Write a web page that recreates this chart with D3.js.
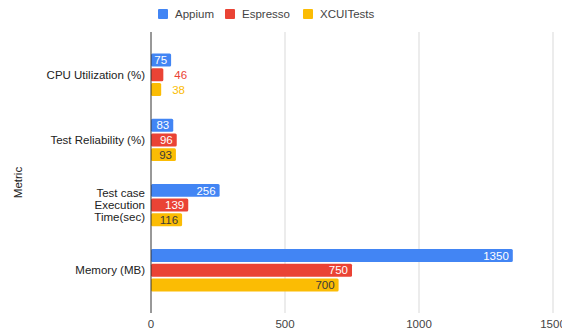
<!DOCTYPE html>
<html>
<head>
<meta charset="utf-8">
<script src="https://cdn.jsdelivr.net/npm/d3@7"></script>
<style>
  body { margin: 0; background: #fff; }
  svg { display: block; font-family: "Liberation Sans", Arial, sans-serif; }
</style>
</head>
<body>
<div id="chart"></div>
<script>
const categories = [
    ['CPU Utilization (%)'],
    ['Test Reliability (%)'],
    ['Test case', 'Execution', 'Time(sec)'],
    ['Memory (MB)']
];
const seriesNames = ['Appium', 'Espresso', 'XCUITests'];
const appium = [75, 83, 256, 1350];
const espresso = [46, 96, 139, 750];
const xcuiTests = [38, 93, 116, 700];
const xTicks = [0, 500, 1000, 1500];

const colors = ['#4285f4', '#ea4335', '#fbbc04'];
const insideText = ['#fff', '#fff', '#3a3a3a'];
const series = [appium, espresso, xcuiTests];

const width = 562, height = 334;
const plot = { left: 151, right: 553, top: 32, bottom: 313 };

const svg = d3.select('#chart').append('svg')
    .attr('width', width)
    .attr('height', height);

const x = d3.scaleLinear().domain([0, 1500]).range([plot.left, plot.right]);
const y = d3.scaleBand()
    .domain(d3.range(categories.length))
    .range([plot.top, plot.bottom])
    .paddingInner(0.35)
    .paddingOuter(0.33);
const yInner = d3.scaleBand()
    .domain(d3.range(series.length))
    .range([0, y.bandwidth()])
    .paddingInner(0.12);

// gridlines
svg.append('g')
    .selectAll('line')
    .data(xTicks.slice(1))
    .enter().append('line')
    .attr('x1', d => x(d)).attr('x2', d => x(d))
    .attr('y1', plot.top).attr('y2', plot.bottom)
    .attr('stroke', '#d9d9d9')
    .attr('stroke-width', 1);

// bars
series.forEach((vals, s) => {
    const g = svg.append('g');
    g.selectAll('rect')
        .data(vals)
        .enter().append('rect')
        .attr('x', x(0))
        .attr('y', (d, i) => y(i) + yInner(s))
        .attr('width', d => x(d) - x(0))
        .attr('height', yInner.bandwidth())
        .attr('rx', 1.5)
        .attr('fill', colors[s]);

    g.selectAll('text')
        .data(vals)
        .enter().append('text')
        .attr('y', (d, i) => y(i) + yInner(s) + yInner.bandwidth() / 2)
        .attr('dy', '0.36em')
        .attr('font-size', '11.5px')
        .text(d => d)
        .each(function(d) {
            const t = d3.select(this);
            const w = this.getComputedTextLength();
            const barW = x(d) - x(0);
            if (w + 6 <= barW) {
                t.attr('x', x(d) - 4).attr('text-anchor', 'end').attr('fill', insideText[s]);
            } else {
                t.attr('x', x(d) + 11).attr('text-anchor', 'start').attr('fill', colors[s]);
            }
        });
});

// zero axis line
svg.append('line')
    .attr('x1', x(0)).attr('x2', x(0))
    .attr('y1', plot.top).attr('y2', plot.bottom)
    .attr('stroke', '#333')
    .attr('stroke-width', 1);

// x tick labels
svg.append('g')
    .selectAll('text')
    .data(xTicks)
    .enter().append('text')
    .attr('x', d => x(d))
    .attr('y', 328)
    .attr('text-anchor', 'middle')
    .attr('font-size', '11.5px')
    .attr('fill', '#444')
    .text(d => d);

// category labels
const catG = svg.append('g');
categories.forEach((lines, i) => {
    const cy = y(i) + y.bandwidth() / 2;
    const lh = 12;
    const t = catG.append('text')
        .attr('text-anchor', 'end')
        .attr('font-size', '11.5px')
        .attr('fill', '#222');
    lines.forEach((ln, j) => {
        t.append('tspan')
            .attr('x', plot.left - 6)
            .attr('y', cy + (j - (lines.length - 1) / 2) * lh)
            .attr('dy', '0.36em')
            .text(ln);
    });
});

// y axis title
svg.append('text')
    .attr('transform', `translate(22,${(plot.top + plot.bottom) / 2 + 10}) rotate(-90)`)
    .attr('text-anchor', 'middle')
    .attr('font-size', '11.5px')
    .attr('fill', '#222')
    .text('Metric');

// legend
const legendX = [158, 225, 303];
const legend = svg.append('g');
seriesNames.forEach((name, s) => {
    legend.append('rect')
        .attr('x', legendX[s]).attr('y', 9)
        .attr('width', 10).attr('height', 10)
        .attr('rx', 1)
        .attr('fill', colors[s]);
    legend.append('text')
        .attr('x', legendX[s] + 17)
        .attr('y', 14)
        .attr('dy', '0.36em')
        .attr('font-size', '11.5px')
        .attr('fill', '#444')
        .text(name);
});
</script>
</body>
</html>
